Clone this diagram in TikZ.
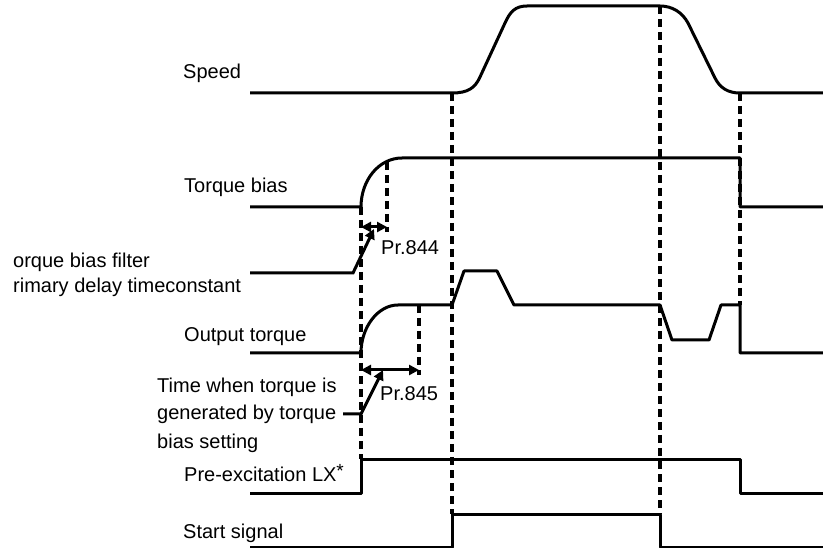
\documentclass[tikz,border=0pt]{standalone}
\usepackage{fontspec}
\setmainfont{Liberation Sans}
\usetikzlibrary{arrows.meta}
\begin{document}
\begin{tikzpicture}[x=1pt,y=-1pt,
  sig/.style={line width=3pt, line join=round},
  guide/.style={line width=3.5pt, dash pattern=on 8pt off 5pt},
  lbl/.style={anchor=base west, inner sep=0pt, font=\fontsize{20}{27}\selectfont},
  dim/.style={line width=3pt, {Triangle[length=10pt,width=10pt]}-{Triangle[length=10pt,width=10pt]}},
  lead/.style={line width=3pt, -{Triangle[length=10pt,width=10pt]}}]
\useasboundingbox (0,0) rectangle (823,548);
% guide lines
\draw[guide] (361,207) -- (361,459);
\draw[guide] (387,162) -- (387,232);
\draw[guide] (419,305) -- (419,375);
\draw[guide] (452,93) -- (452,514);
\draw[guide] (660,6) -- (660,514);
\draw[guide] (740,93) -- (740,305);
% Speed
\draw[sig] (250,93) -- (452,93) .. controls (468,93) and (475,88) .. (480,77) -- (505,23)
  .. controls (510,12) and (515,6) .. (527,6) -- (660,6)
  .. controls (672,6) and (682,12) .. (688,23) -- (715,78)
  .. controls (720,88) and (728,93) .. (740,93) -- (823,93);
% Torque bias
\draw[sig] (250,207) -- (361,207) .. controls (361,180) and (379,158) .. (402,158) -- (740,158) -- (740,207) -- (823,207);
% Output torque
\draw[sig] (250,353) -- (361,353) .. controls (361,327) and (378,305) .. (398,305) -- (452,305) -- (464,271) -- (497,271) -- (514,305)
  -- (660,305) -- (672,340) -- (709,340) -- (721,305) -- (740,305) -- (740,353) -- (823,353);
% Pre-excitation
\draw[sig] (250,493) -- (361,493) -- (361,459) -- (740,459) -- (740,493) -- (823,493);
% Start signal
\draw[sig] (250,547) -- (452,547) -- (452,514) -- (660,514) -- (660,547) -- (823,547);
% labels
\node[lbl] (speed) at (183,79) {Speed};
\node[lbl] (tb) at (184,193) {Torque bias};
\node[lbl] (tbf1) at (13,268) {orque bias filter};
\node[lbl] (tbf2) at (13,293) {rimary delay timeconstant};
\node[lbl] (ot) at (184,342) {Output torque};
\node[lbl] (tw1) at (157,393) {Time when torque is};
\node[lbl] (tw2) at (157,420) {generated by torque};
\node[lbl] (tw3) at (157,448) {bias setting};
\node[lbl] (pre) at (184,482) {Pre-excitation LX\raisebox{5pt}{\fontsize{19}{19}\selectfont *}};
\node[lbl] (start) at (183,538) {Start signal};
\node[lbl] (p844) at (381,255) {Pr.844};
\node[lbl] (p845) at (380,400) {Pr.845};
% dimensions
\coordinate (a1) at (361,227); \coordinate (a2) at (387,227);
\draw[dim] (a1) -- (a2);
\coordinate (b1) at (361,370); \coordinate (b2) at (419,370);
\draw[dim] (b1) -- (b2);
% leaders
\coordinate (l1s) at (250,273); \coordinate (l1k) at (353,273); \coordinate (l1e) at (374,229);
\draw[lead] (l1s) -- (l1k) -- (l1e);
\coordinate (l2s) at (343,414); \coordinate (l2k) at (361,414); \coordinate (l2e) at (383,370);
\draw[lead] (l2s) -- (l2k) -- (l2e);
\end{tikzpicture}
\end{document}
